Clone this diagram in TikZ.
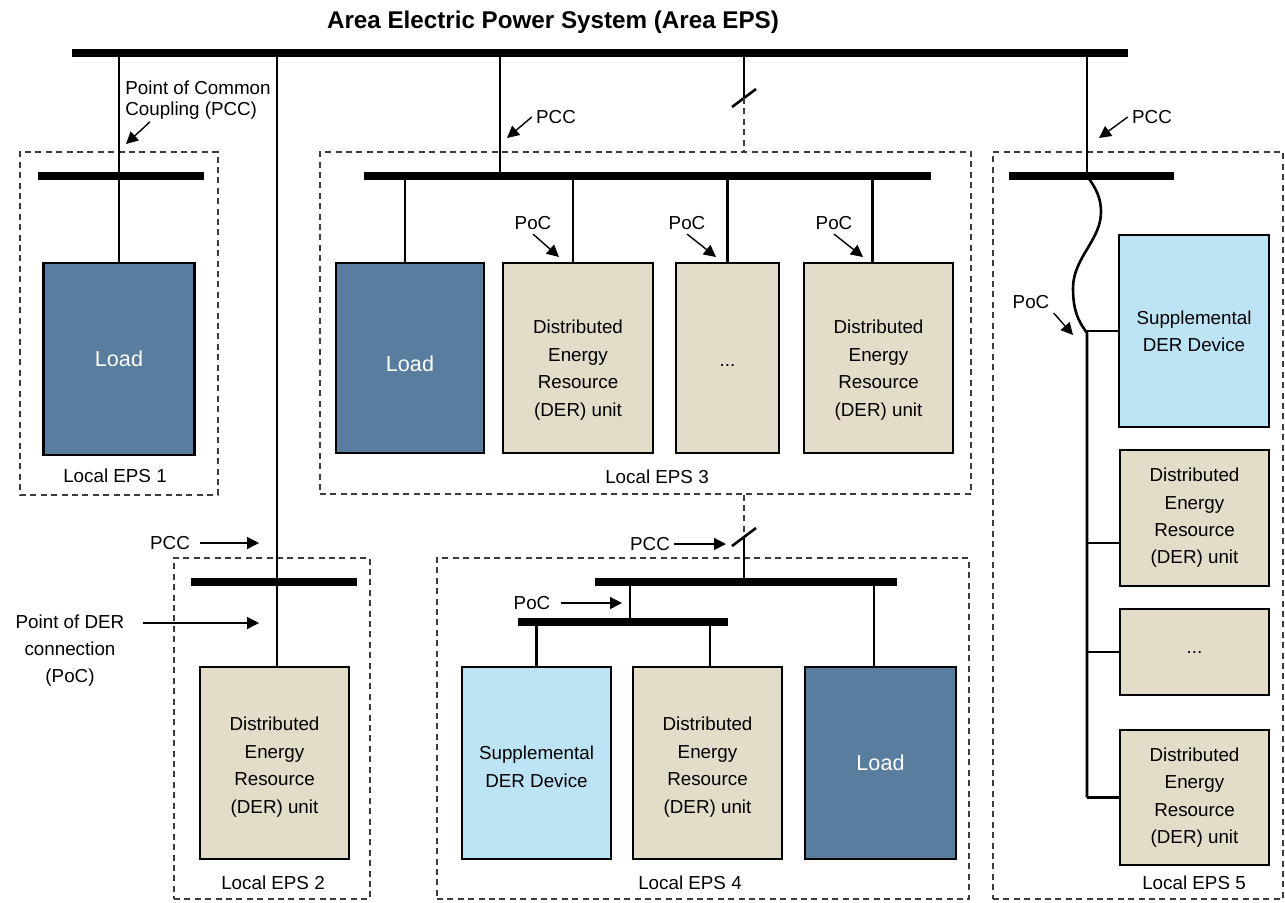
\documentclass[tikz,border=0pt]{standalone}
\usepackage{fontspec}
\setmainfont{Liberation Sans}
\definecolor{loadblue}{RGB}{88,125,158}
\definecolor{dersand}{RGB}{227,220,201}
\definecolor{suppblue}{RGB}{188,228,245}
\definecolor{epsgray}{RGB}{60,60,60}
\newcommand{\topstrut}[1]{\rule{0pt}{#1}}
\usetikzlibrary{arrows.meta,calc}

\begin{document}
\begin{tikzpicture}[x=0.5pt,y=-0.5pt,
  bx/.style={draw,line width=1.3pt,inner sep=0pt,align=center,minimum height=96pt,font=\fontsize{9.4}{13.7}\selectfont},
  ld/.style={bx,fill=loadblue,text=white,font=\fontsize{10.8}{13.7}\selectfont},
  der/.style={bx,fill=dersand},
  sup/.style={bx,fill=suppblue},
  eps/.style={draw=epsgray,line width=0.6pt,dash pattern=on 3pt off 2.2pt,inner sep=0pt},
  bus/.style={line width=4pt},
  wire/.style={line width=1.3pt},
  link/.style={draw=epsgray,line width=0.8pt,dash pattern=on 3pt off 2.2pt},
  note/.style={inner sep=2pt,font=\fontsize{9.4}{13.5}\selectfont},
  arr/.style={line width=0.7pt,-{Triangle[length=6pt,width=6pt]}}]
  \useasboundingbox (0,0) rectangle (1285,902);
  \node[font=\bfseries\fontsize{12.1}{14}\selectfont] (title) at (553,22) {Area Electric Power System (Area EPS)};
  % local EPS frames
  \node[eps,minimum width=99pt,minimum height=171.5pt] (eps1) at (119,323.5) {};
  \node[eps,minimum width=325.5pt,minimum height=171pt] (eps3) at (645.5,323) {};
  \node[eps,minimum width=145pt,minimum height=373.5pt] (eps5) at (1138,525.5) {};
  \node[eps,minimum width=98pt,minimum height=170.5pt] (eps2) at (272,728.5) {};
  \node[eps,minimum width=266pt,minimum height=170.5pt] (eps4) at (703,728.5) {};
  \node[note] (lbl1) at (115,476) {Local EPS 1};
  \node[note] (lbl3) at (657,477) {Local EPS 3};
  \node[note] (lbl2) at (273,883) {Local EPS 2};
  \node[note] (lbl4) at (690,883) {Local EPS 4};
  \node[note] (lbl5) at (1194,883) {Local EPS 5};
  % equipment
  \node[ld,minimum width=75.5pt] (load1) at (119,359) {Load};
  \node[ld,minimum width=74pt,minimum height=95pt] (load3) at (410,358) {\topstrut{13.5pt}Load};
  \node[der,minimum width=75pt,minimum height=95pt] (der3a) at (578,358) {\topstrut{18.9pt}Distributed\\Energy\\Resource\\(DER) unit};
  \node[der,minimum width=51.5pt,minimum height=95pt] (dots3) at (727.5,358) {\topstrut{8pt}...};
  \node[der,minimum width=74.5pt,minimum height=95pt] (der3b) at (878.5,358) {\topstrut{18.9pt}Distributed\\Energy\\Resource\\(DER) unit};
  \node[sup,minimum width=75pt] (supp5) at (1194,331) {Supplemental\\DER Device};
  \node[der,minimum width=74.5pt,minimum height=68pt] (der5a) at (1194.5,518) {Distributed\\Energy\\Resource\\(DER) unit};
  \node[der,minimum width=74.5pt,minimum height=43pt] (dots5) at (1194.5,652) {...};
  \node[der,minimum width=74.5pt,minimum height=67.5pt] (der5b) at (1194.5,797.5) {Distributed\\Energy\\Resource\\(DER) unit};
  \node[der,minimum width=74.5pt] (der2) at (274.5,763) {\topstrut{10.9pt}Distributed\\Energy\\Resource\\(DER) unit};
  \node[sup,minimum width=74.5pt] (supp4) at (536.5,763) {\topstrut{10.4pt}Supplemental\\DER Device};
  \node[der,minimum width=74.5pt] (der4) at (707.5,763) {\topstrut{10.9pt}Distributed\\Energy\\Resource\\(DER) unit};
  \node[ld,minimum width=75.5pt] (load4) at (880.5,763) {Load};
  % bus points
  \coordinate (mainw) at (72,53);
  \coordinate (bus1) at (38,176);
  \coordinate (bus3) at (364,176);
  \coordinate (bus5) at (1009,176);
  \coordinate (bus2) at (191,582);
  \coordinate (bus4) at (595,582);
  \coordinate (bus4s) at (518,622);
  \coordinate (b3) at (500,176);
  \coordinate (b5) at (1087,176);
  \coordinate (tap4) at (630,622);
  \coordinate (sw3) at (744,98);
  \coordinate (sw4) at (744,537);
  % feeders
  \draw[wire] (load1.north) -- (load1.north |- mainw);
  \draw[wire] ($(der2.north)+(2.5,0)$) -- ($(der2.north |- mainw)+(2.5,0)$);
  \draw[wire] (b3) -- (b3 |- mainw);
  \draw[wire] (b5) -- (b5 |- mainw);
  \draw[wire] (sw3 |- mainw) -- (sw3);
  \draw[wire] ($(sw3)+(-12,9)$) -- ($(sw3)+(12,-9)$);
  \draw[link] (sw3) -- (sw3 |- eps3.north);
  \draw[link] (eps3.south -| sw4) -- (sw4);
  \draw[wire] ($(sw4)+(-12,9)$) -- ($(sw4)+(12,-9)$);
  \draw[wire] (sw4) -- (sw4 |- bus4);
  \draw[wire] ($(load3.north)+(-5,0)$) -- ($(load3.north |- bus3)+(-5,0)$);
  \draw[wire] ($(der3a.north)+(-5,0)$) -- ($(der3a.north |- bus3)+(-5,0)$);
  \draw[wire] (dots3.north) -- (dots3.north |- bus3);
  \draw[wire] ($(der3b.north)+(-6,0)$) -- ($(der3b.north |- bus3)+(-6,0)$);
  \draw[wire] (tap4) -- (tap4 |- bus4);
  \draw[wire] (supp4.north) -- (supp4.north |- bus4s);
  \draw[wire] ($(der4.north)+(2.5,0)$) -- ($(der4.north |- bus4s)+(2.5,0)$);
  \draw[wire] ($(load4.north)+(-6.5,0)$) -- ($(load4.north |- bus4)+(-6.5,0)$);
  \draw[wire] (b5) .. controls (1096,188) and (1101,198) .. (1101,212) .. controls (1101,240) and (1073,258) .. (1073,288) .. controls (1073,312) and (1079,322) .. (1087,333) -- (der5b.west -| b5);
  \draw[wire] (supp5.west) -- (supp5.west -| b5);
  \draw[wire] ($(der5a.west)+(0,25)$) -- ($(der5a.west -| b5)+(0,25)$);
  \draw[wire] (dots5.west) -- (dots5.west -| b5);
  \draw[wire] (der5b.west) -- (der5b.west -| b5);
  % busbars
  \draw[bus] (mainw) -- ++(1056,0);
  \draw[bus] (bus1) -- ++(166,0);
  \draw[bus] (bus3) -- ++(567,0);
  \draw[bus] (bus5) -- ++(165,0);
  \draw[bus] (bus2) -- ++(166,0);
  \draw[bus] (bus4) -- ++(302,0);
  \draw[bus] (bus4s) -- ++(210,0);
  % PCC / PoC callouts
  \node[note,anchor=west,align=left,font=\fontsize{9.4}{10.6}\selectfont] (pccnote) at (121,100) {Point of Common\\Coupling (PCC)};
  \node[note] (pcc3) at (556,117) {PCC};
  \node[note] (pcc5) at (1152,117) {PCC};
  \node[note] (pcc2) at (170,543) {PCC};
  \node[note,align=center] (pocnote) at (70,651) {Point of DER\\connection\\(PoC)};
  \node[note] (pcc4) at (650,544) {PCC};
  \node[note] (poc4) at (532,603) {PoC};
  \node[note] (poc3a) at (533,223) {PoC};
  \node[note] (poc3b) at (687,223) {PoC};
  \node[note] (poc3c) at (834,223) {PoC};
  \node[note] (poc5) at (1031,302) {PoC};
  \coordinate (pcc1tip) at (126,144);
  \coordinate (pcc3tip) at (507,138);
  \coordinate (pcc5tip) at (1099,138);
  \coordinate (pcc2tip) at (259,543);
  \coordinate (poc2tip) at (259,623);
  \coordinate (pcc4tip) at (726,544);
  \coordinate (poc4tip) at (622,603);
  \coordinate (poc3atip) at (559,257);
  \coordinate (poc3btip) at (716,257);
  \coordinate (poc3ctip) at (863,257);
  \coordinate (poc5tip) at (1073,335);
  \draw[arr] ($(pccnote.south west)+(29,-2)$) -- (pcc1tip);
  \draw[arr] (pcc3.west) -- (pcc3tip);
  \draw[arr] (pcc5.west) -- (pcc5tip);
  \draw[arr] ($(pcc2.east)+(6,0)$) -- (pcc2tip);
  \draw[arr] ($(pocnote.east |- poc2tip)+(14,0)$) -- (poc2tip);
  \draw[arr] (pcc4.east) -- (pcc4tip);
  \draw[arr] ($(poc4.east)+(6,0)$) -- (poc4tip);
  \draw[arr] (poc3a.south) -- (poc3atip);
  \draw[arr] (poc3b.south) -- (poc3btip);
  \draw[arr] (poc3c.south) -- (poc3ctip);
  \draw[arr] (poc5.south east) -- (poc5tip);
\end{tikzpicture}
\end{document}
